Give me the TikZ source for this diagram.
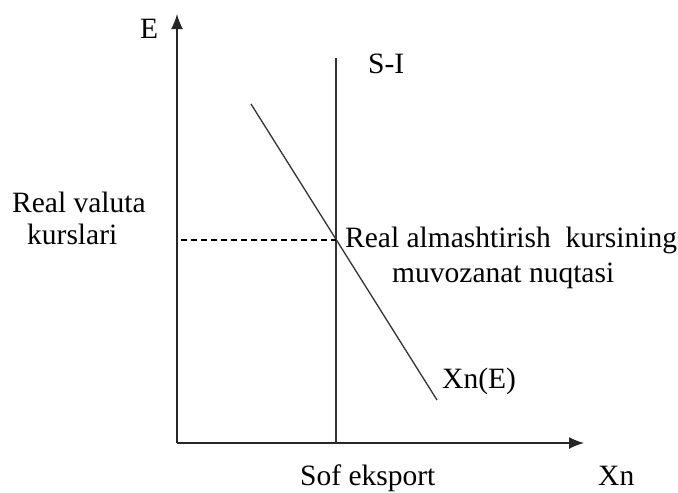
\documentclass[tikz,border=0pt]{standalone}
\usepackage{fontspec}
\setmainfont{Liberation Serif}
\usetikzlibrary{arrows.meta}
\begin{document}
\begin{tikzpicture}[x=1pt,y=-1pt,
  lbl/.style={anchor=base west,inner sep=0pt,font=\fontsize{29.5}{34}\selectfont},
  axis/.style={line width=1.4pt,draw=black!85,-{Latex[length=15pt,width=12pt]}},
  ln/.style={line width=1.3pt,draw=black!80}]
\useasboundingbox (0,0) rectangle (678,493);
\coordinate (O) at (177,443);
\coordinate (ytop) at (177,14);
\coordinate (xend) at (584,443);
\coordinate (sitop) at (336,58);
\coordinate (sibot) at (336,443);
\coordinate (d1) at (251,104);
\coordinate (d2) at (437,400);
\coordinate (dl) at (181,240);
\coordinate (eq) at (336,240);
\draw[axis] (O) -- (ytop);
\draw[axis] (O) -- (xend);
\draw[ln] (sibot) -- (sitop);
\draw[ln] (d1) -- (d2);
\draw[line width=1.1pt,dash pattern=on 6pt off 4pt] (dl) -- (eq);
\node[lbl] (E) at (140,38) {E};
\node[lbl] (SI) at (368,73) {S-I};
\node[lbl] (rv1) at (12,212) {Real valuta};
\node[lbl] (rv2) at (27,244) {kurslari};
\node[lbl] (ra1) at (345,247) {Real almashtirish\ \ kursining};
\node[lbl] (ra2) at (392,282) {muvozanat nuqtasi};
\node[lbl] (XnE) at (442,388) {Xn(E)};
\node[lbl] (sof) at (300,485) {Sof eksport};
\node[lbl] (Xn) at (598,485) {Xn};
\end{tikzpicture}
\end{document}
